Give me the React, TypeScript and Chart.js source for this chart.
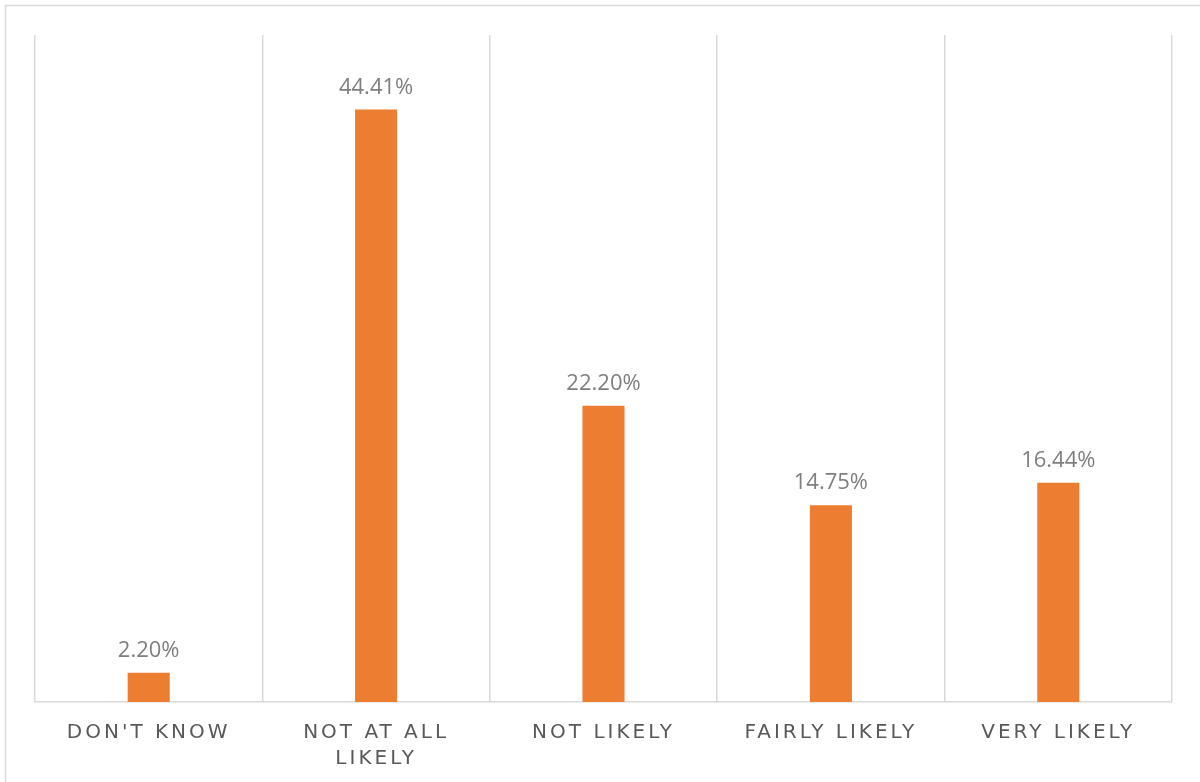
import React, { useEffect, useRef } from "react";
import { Chart, registerables } from "chart.js";

Chart.register(...registerables);

const categories: (string | string[])[] = [
  "DON'T KNOW",
  ["NOT AT ALL", "LIKELY"],
  "NOT LIKELY",
  "FAIRLY LIKELY",
  "VERY LIKELY",
];
const values: number[] = [2.2, 44.41, 22.2, 14.75, 16.44];
const valueLabels: string[] = ["2.20%", "44.41%", "22.20%", "14.75%", "16.44%"];

const BAR_COLOR = "#ED7D31";
const GRID_COLOR = "#d9d9d9";

const framePlugin = {
  id: "frame",
  beforeDraw(chart: any) {
    const ctx = chart.ctx;
    ctx.save();
    ctx.strokeStyle = GRID_COLOR;
    ctx.lineWidth = 1.5;
    ctx.strokeRect(5.5, 5.5, chart.width + 10, chart.height + 10);
    ctx.restore();
    (ctx as any).letterSpacing = "3px";
  },
  afterDatasetsDraw(chart: any) {
    const ctx = chart.ctx;
    (ctx as any).letterSpacing = "0px";
    const meta = chart.getDatasetMeta(0);
    ctx.save();
    ctx.fillStyle = "#7f7f7f";
    ctx.font = '22px "Open Sans"';
    ctx.textAlign = "center";
    ctx.textBaseline = "alphabetic";
    meta.data.forEach((bar: any, i: number) => {
      ctx.fillText(valueLabels[i], bar.x, bar.y - 16);
    });
    ctx.restore();
  },
};

export default function App() {
  const ref = useRef<HTMLCanvasElement | null>(null);
  useEffect(() => {
    document.body.style.margin = "0";
    if (!ref.current) return;
    const chart = new Chart(ref.current, {
      type: "bar",
      data: {
        labels: categories,
        datasets: [
          {
            data: values,
            backgroundColor: BAR_COLOR,
            barPercentage: 0.185,
            categoryPercentage: 1,
          },
        ],
      },
      options: {
        animation: false,
        responsive: false,
        layout: { padding: { left: 35, right: 28, top: 35, bottom: 0 } },
        plugins: { legend: { display: false }, tooltip: { enabled: false } },
        scales: {
          y: { display: false, min: 0, max: 50 },
          x: {
            afterFit: (s: any) => {
              s.height = 80;
            },
            grid: {
              color: GRID_COLOR,
              lineWidth: 1.5,
              drawTicks: false,
              offset: true,
            },
            border: { color: GRID_COLOR, width: 1.5 },
            ticks: {
              color: "#595959",
              font: { family: "DejaVu Sans", size: 20, lineHeight: 1.3 },
              padding: 18,
              maxRotation: 0,
              autoSkip: false,
            },
          },
        },
      },
      plugins: [framePlugin],
    });
    return () => chart.destroy();
  }, []);
  return (
    <div style={{ width: 1200, height: 782 }}>
      <canvas ref={ref} width={1200} height={782} />
    </div>
  );
}
